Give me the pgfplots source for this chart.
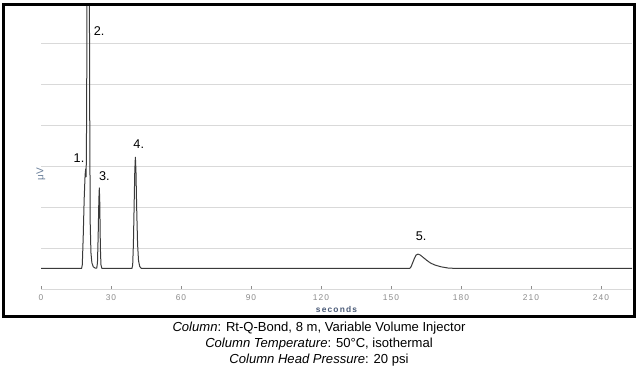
\documentclass[border=0pt]{standalone}
\usepackage{fontspec}
\setmainfont{Liberation Sans}
\newfontfamily\tickfont[LetterSpace=12]{Liberation Sans}
\newfontfamily\lblfont[LetterSpace=14]{Liberation Sans}
\usepackage{pgfplots}
\pgfplotsset{compat=1.18}
\definecolor{trace}{HTML}{3A3A3A}
\definecolor{gridc}{HTML}{D9D9D9}
\definecolor{tickgray}{HTML}{8C8C8C}
\definecolor{slate}{HTML}{4B5B78}
\definecolor{slatel}{HTML}{6A7F9A}
\pgfplotstableread{
t y
0 0.51
17.4 0.51
17.7 0.6
18.1 1.3
18.5 2.2
18.9 2.8
19.15 2.94
19.3 2.75
19.45 3.2
19.6 5
19.75 8
20.2 12
20.7 8
20.9 4
21.1 1.6
21.4 0.9
21.8 0.65
22.4 0.55
23.2 0.52
23.9 0.52
24.2 0.65
24.5 1.3
24.8 2.2
25.0 2.48
25.2 2.1
25.45 1.0
25.7 0.6
26.1 0.51
39.0 0.51
39.3 0.6
39.6 1.1
39.9 2.0
40.2 2.9
40.45 3.23
40.7 2.9
41.0 2.0
41.4 1.1
41.8 0.7
42.3 0.56
43.0 0.51
158.0 0.51
158.6 0.55
159.3 0.65
160.0 0.75
160.8 0.84
161.6 0.86
162.5 0.84
163.8 0.78
165.3 0.71
167 0.64
169 0.59
171.5 0.55
174.5 0.52
178 0.51
253.3 0.51
}\chrom
\begin{document}
\begin{tikzpicture}
\useasboundingbox (0,0) rectangle (478.5pt,-276.75pt);
\begin{axis}[
  scale only axis,
  width=443.25pt, height=214.725pt,
  at={(30.75pt,-216.975pt)}, anchor=south west,
  xmin=0, xmax=253.3, ymin=0, ymax=7,
  axis x line*=bottom, axis y line*=left,
  x axis line style={draw=gridc, -},
  y axis line style={draw=none},
  xtick={0,30,...,240},
  ytick={1,2,...,7}, yticklabels={},
  ytick style={draw=none},
  xtick style={draw=tickgray, line width=0.4pt},
  tick align=inside, major tick length=2.5pt,
  ymajorgrids, grid style={draw=gridc, line width=0.7pt},
  /pgf/number format/assume math mode=true,
  xticklabel style={font=\tickfont\fontsize{6.3}{7}\selectfont, text=tickgray, anchor=center, yshift=-6.5pt},
  xlabel={seconds},
  xlabel style={at={(axis description cs:0.5,0)}, anchor=center, yshift=-14.8pt, font=\lblfont\bfseries\fontsize{6.3}{7}\selectfont, text=slate},
  ylabel={μV},
  ylabel style={at={(axis description cs:0,0.4866)}, anchor=center, xshift=-18pt, rotate=0, font=\fontsize{7.5}{8}\selectfont, text=slatel},
]
\addplot[trace, line width=0.75pt, line join=round] table[x=t,y=y] {\chrom};
\node[inner sep=0, font=\fontsize{9.5}{11}\selectfont] at (axis cs:16.3,3.21) {1.};
\node[inner sep=0, font=\fontsize{9.5}{11}\selectfont] at (axis cs:24.9,6.31) {2.};
\node[inner sep=0, font=\fontsize{9.5}{11}\selectfont] at (axis cs:27.2,2.77) {3.};
\node[inner sep=0, font=\fontsize{9.5}{11}\selectfont] at (axis cs:41.9,3.55) {4.};
\node[inner sep=0, font=\fontsize{9.5}{11}\selectfont] at (axis cs:162.9,1.29) {5.};
\end{axis}
\draw[line width=2.25pt, black] (2.625pt,-3pt) rectangle (476.1pt,-237pt);
\node[anchor=base, font=\fontsize{9.8}{11}\selectfont] at (239.25pt,-248.25pt) {\textit{Column}: Rt-Q-Bond, 8 m, Variable Volume Injector};
\node[anchor=base, font=\fontsize{9.8}{11}\selectfont] at (239.25pt,-260.8pt) {\textit{Column Temperature}: 50°C, isothermal};
\node[anchor=base, font=\fontsize{9.8}{11}\selectfont] at (239.25pt,-272.5pt) {\textit{Column Head Pressure}: 20 psi};
\end{tikzpicture}
\end{document}
